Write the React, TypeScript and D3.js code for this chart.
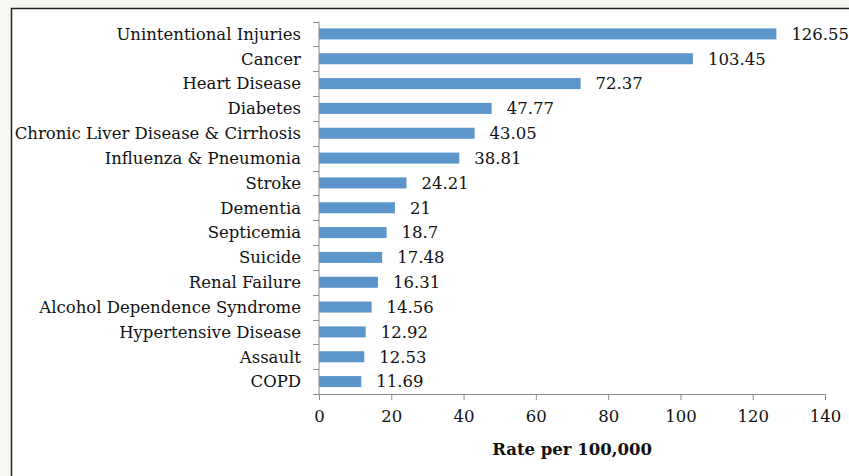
import React, { useEffect, useRef } from "react";
import * as d3 from "d3";

const categories = [
  "Unintentional Injuries",
  "Cancer",
  "Heart Disease",
  "Diabetes",
  "Chronic Liver Disease & Cirrhosis",
  "Influenza & Pneumonia",
  "Stroke",
  "Dementia",
  "Septicemia",
  "Suicide",
  "Renal Failure",
  "Alcohol Dependence Syndrome",
  "Hypertensive Disease",
  "Assault",
  "COPD",
];
const rates = [126.55, 103.45, 72.37, 47.77, 43.05, 38.81, 24.21, 21, 18.7, 17.48, 16.31, 14.56, 12.92, 12.53, 11.69];
const rateLabels = ["126.55", "103.45", "72.37", "47.77", "43.05", "38.81", "24.21", "21", "18.7", "17.48", "16.31", "14.56", "12.92", "12.53", "11.69"];
const xTicks = [0, 20, 40, 60, 80, 100, 120, 140];
const xTitle = "Rate per 100,000";

const W = 849;
const H = 476;
const FONT = "'DejaVu Serif', serif";
const FS = 16.5;

export default function App() {
  const ref = useRef<SVGSVGElement>(null);

  useEffect(() => {
    const svg = d3.select(ref.current);
    svg.selectAll("*").remove();

    // page background and frame
    svg.append("rect").attr("width", W).attr("height", H).attr("fill", "#f7f6f3");
    svg.append("rect").attr("x", 11).attr("y", 8).attr("width", W).attr("height", H).attr("fill", "#fff");
    svg.append("line").attr("x1", 11.5).attr("x2", 11.5).attr("y1", 8).attr("y2", H).attr("stroke", "#222").attr("stroke-width", 1.5);
    svg.append("line").attr("x1", 11).attr("x2", W).attr("y1", 8.5).attr("y2", 8.5).attr("stroke", "#222").attr("stroke-width", 1.5);

    const x = d3.scaleLinear().domain([0, 140]).range([319, 825]);
    const y = d3.scaleBand().domain(categories).range([21.5, 394]);

    const g = svg.append("g");

    // bars
    g.selectAll(".bar")
      .data(categories)
      .enter()
      .append("rect")
      .attr("class", "bar")
      .attr("x", x(0))
      .attr("y", (d) => (y(d) as number) + y.bandwidth() / 2 - 5.5)
      .attr("width", (d, i) => x(rates[i]) - x(0))
      .attr("height", 11)
      .attr("fill", "#5b95ca");

    // value labels
    g.selectAll(".val")
      .data(categories)
      .enter()
      .append("text")
      .attr("x", (d, i) => x(rates[i]) + 15)
      .attr("y", (d) => (y(d) as number) + y.bandwidth() / 2)
      .attr("dy", "0.35em")
      .attr("font-family", FONT)
      .attr("font-size", FS)
      .attr("fill", "#111")
      .text((d, i) => rateLabels[i]);

    // category labels
    g.selectAll(".cat")
      .data(categories)
      .enter()
      .append("text")
      .attr("x", 301)
      .attr("y", (d) => (y(d) as number) + y.bandwidth() / 2)
      .attr("dy", "0.35em")
      .attr("text-anchor", "end")
      .attr("font-family", FONT)
      .attr("font-size", FS)
      .attr("fill", "#111")
      .text((d) => d);

    const axisColor = "#8c8c8c";
    // y axis line and ticks between categories
    g.append("line")
      .attr("x1", x(0)).attr("x2", x(0))
      .attr("y1", y.range()[0]).attr("y2", y.range()[1])
      .attr("stroke", axisColor);
    const bounds = categories.map((d) => y(d) as number).concat([y.range()[1]]);
    g.selectAll(".ytick")
      .data(bounds)
      .enter()
      .append("line")
      .attr("x1", x(0) - 6).attr("x2", x(0))
      .attr("y1", (d) => Math.round(d) + 0.5).attr("y2", (d) => Math.round(d) + 0.5)
      .attr("stroke", axisColor);

    // x axis
    const xAxis = g.append("g")
      .attr("transform", `translate(0,${y.range()[1]})`)
      .call(d3.axisBottom(x).tickValues(xTicks).tickSize(6).tickPadding(10).tickFormat(d3.format("d")));
    xAxis.select(".domain").attr("stroke", axisColor);
    xAxis.selectAll(".tick line").attr("stroke", axisColor);
    xAxis.selectAll(".tick text")
      .attr("font-family", FONT)
      .attr("font-size", FS)
      .attr("fill", "#111");

    g.append("text")
      .attr("x", (x(0) + x(140)) / 2)
      .attr("y", 455)
      .attr("text-anchor", "middle")
      .attr("font-family", FONT)
      .attr("font-size", FS)
      .attr("font-weight", "bold")
      .attr("fill", "#111")
      .text(xTitle);
  }, []);

  return (
    <svg
      ref={ref}
      width={W}
      height={H}
      style={{ position: "absolute", left: 0, top: 0, display: "block" }}
    />
  );
}
